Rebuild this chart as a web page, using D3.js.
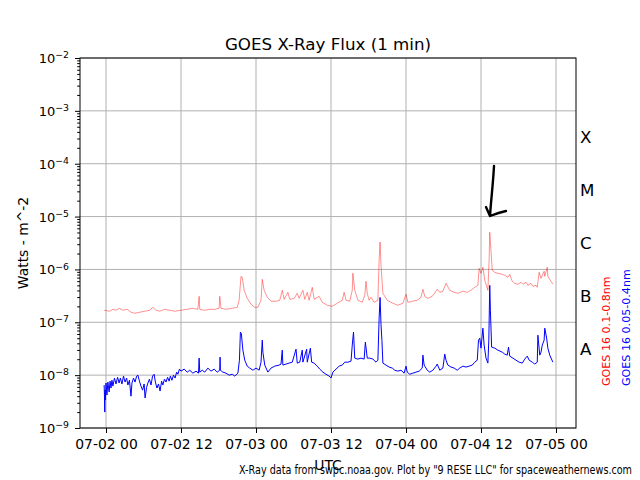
<!DOCTYPE html>
<html lang="en">
<head>
<meta charset="utf-8">
<title>GOES X-Ray Flux</title>
<script src="https://cdn.jsdelivr.net/npm/d3@7"></script>
<style>
  body { margin: 0; background: #fff; }
  text { font-family: "DejaVu Sans", sans-serif; fill: #000; }
  .grid line { stroke: #b0b0b0; stroke-width: 1; }
  .axis path { display: none; }
  .axis line { stroke: #000; }
</style>
</head>
<body>
<div id="chart"></div>
<script>
// hours since 07-02 00:00 UTC, flux in W/m^2
var longHours = [-0.3,0.6,1.1,1.6,2.1,2.7,3.4,4.0,4.6,5.4,6.2,7.0,7.5,8.0,8.6,9.4,10.2,11.0,12.0,13.0,13.9,14.7,14.9,15.0,15.8,16.6,17.4,18.1,18.2,18.4,19.2,20.2,21.0,21.3,21.6,21.8,22.1,22.6,23.2,23.8,24.3,24.8,25.0,25.3,25.8,26.4,27.2,27.8,28.2,28.5,29.1,29.4,30.1,30.6,30.9,31.5,31.8,32.2,32.5,33.0,33.3,34.1,34.6,35.4,36.2,37.0,37.8,38.1,38.4,39.0,39.4,39.5,39.8,40.3,41.0,41.4,41.6,41.8,42.1,42.4,42.9,43.5,43.7,43.85,44.0,44.3,45.0,45.9,46.7,47.5,48.0,48.3,49.0,49.8,50.4,50.7,51.0,51.5,52.2,53.0,53.4,53.9,54.4,55.0,55.7,56.3,57.1,57.8,58.4,59.0,59.5,59.7,60.0,60.3,60.6,61.0,61.1,61.3,61.4,61.6,61.8,62.2,62.7,63.4,63.8,64.3,64.6,65.0,65.4,65.9,66.4,66.7,67.2,67.5,68.0,68.3,68.8,69.0,69.3,69.6,69.8,70.1,70.2,70.6,70.7,71.2,71.5];
var longFlux = [1.69e-7,1.62e-7,1.76e-7,1.69e-7,1.84e-7,1.69e-7,1.76e-7,1.55e-7,1.48e-7,1.55e-7,1.62e-7,1.69e-7,1.92e-7,1.69e-7,1.62e-7,1.76e-7,1.69e-7,1.62e-7,1.69e-7,1.76e-7,1.84e-7,1.76e-7,3.10e-7,1.76e-7,1.69e-7,1.76e-7,1.76e-7,1.84e-7,3.10e-7,1.84e-7,1.76e-7,1.84e-7,1.92e-7,2.61e-7,7.41e-7,7.1e-7,4.03e-7,2.84e-7,2.19e-7,1.92e-7,1.92e-7,2.61e-7,6.50e-7,4.03e-7,2.97e-7,2.50e-7,2.50e-7,2.61e-7,4.03e-7,2.72e-7,3.69e-7,2.72e-7,2.84e-7,3.54e-7,2.84e-7,4.03e-7,2.72e-7,3.69e-7,2.61e-7,4.59e-7,2.72e-7,3.10e-7,2.39e-7,2.10e-7,2.01e-7,2.29e-7,2.61e-7,3.69e-7,2.61e-7,2.50e-7,4.03e-7,8.44e-7,4.03e-7,2.61e-7,2.39e-7,3.24e-7,5.96e-7,3.54e-7,2.61e-7,2.97e-7,2.39e-7,2.61e-7,1.5e-6,3.3e-6,1.2e-6,3.54e-7,2.61e-7,2.29e-7,2.10e-7,2.29e-7,3.39e-7,2.39e-7,2.50e-7,2.61e-7,2.97e-7,4.21e-7,3.10e-7,2.84e-7,3.10e-7,4.21e-7,3.69e-7,3.86e-7,5.46e-7,4.03e-7,3.69e-7,3.54e-7,3.86e-7,3.69e-7,4.03e-7,4.59e-7,5.01e-7,1.05e-6,8.44e-7,1.10e-6,6.23e-7,4.40e-7,4.03e-7,1.5e-6,5.04e-6,2.2e-6,9.62e-7,8.82e-7,8.44e-7,8.08e-7,7.74e-7,7.09e-7,8.08e-7,5.96e-7,5.46e-7,5.23e-7,5.71e-7,5.23e-7,5.71e-7,5.01e-7,5.46e-7,4.80e-7,5.01e-7,4.59e-7,8.82e-7,6.79e-7,7.74e-7,9.21e-7,7.41e-7,1.10e-6,7.41e-7,5.96e-7,5.23e-7];

var shortHours = [-0.3,-0.25,-0.2,-0.15,-0.1,0.0,0.15,0.3,0.5,0.65,0.8,0.95,1.1,1.35,1.6,1.85,2.1,2.3,2.55,2.8,3.05,3.3,3.5,3.75,4.0,4.15,4.4,4.65,4.9,5.1,5.35,5.6,5.85,6.1,6.25,6.5,6.7,6.95,7.2,7.45,7.7,7.9,8.15,8.4,8.65,8.9,9.1,9.35,9.6,9.85,10.1,10.3,10.55,10.8,11.05,11.3,11.5,11.75,12.0,12.5,13.0,13.4,13.9,14.4,14.8,14.9,15.0,15.4,15.8,16.3,16.8,17.3,17.8,18.2,18.25,18.3,18.7,19.2,19.7,20.2,20.6,21.1,21.35,21.5,21.65,21.9,22.2,22.6,23.0,23.5,24.0,24.5,24.8,25.0,25.1,25.4,25.9,26.4,27.0,27.7,28.0,28.2,28.3,28.8,29.3,29.8,30.4,30.6,31.0,31.4,31.5,32.1,32.2,32.7,32.9,33.3,33.8,34.2,34.7,35.2,35.7,36.0,36.3,36.8,37.3,37.8,38.2,38.7,39.2,39.4,39.6,39.8,40.3,40.8,41.3,41.5,41.8,42.2,42.7,43.2,43.5,43.7,43.85,44.0,44.15,44.3,44.8,45.3,45.8,46.2,46.7,47.2,47.7,48.0,48.2,48.6,49.1,49.6,50.1,50.6,50.7,50.9,51.4,51.8,52.3,52.8,53.0,53.4,53.9,54.2,54.4,54.7,55.2,55.7,56.2,56.6,57.1,57.6,58.1,58.6,59.0,59.4,59.6,59.8,60.0,60.3,60.5,60.8,61.1,61.25,61.4,61.5,61.7,62.2,62.7,63.4,63.8,64.2,64.4,64.6,65.1,65.6,66.1,66.6,67.0,67.4,67.7,68.2,68.6,69.0,69.1,69.4,69.6,69.8,70.1,70.2,70.5,70.7,71.0,71.5];
var shortFlux = [6.5e-9,4.2e-9,2.0e-9,5.2e-9,3.4e-9,7.1e-9,4.2e-9,7.4e-9,4.8e-9,7.7e-9,5.7e-9,8.0e-9,6.2e-9,8.8e-9,6.8e-9,9.1e-9,7.1e-9,8.8e-9,6.8e-9,9.6e-9,7.4e-9,8.8e-9,6.5e-9,8.0e-9,4.0e-9,7.1e-9,8.8e-9,7.4e-9,9.6e-9,1.0e-8,7.7e-9,6.2e-9,5.2e-9,6.8e-9,3.7e-9,5.9e-9,7.1e-9,8.4e-9,6.5e-9,9.6e-9,1.04e-8,7.4e-9,5.7e-9,6.8e-9,5.0e-9,7.7e-9,6.5e-9,8.4e-9,7.4e-9,9.1e-9,7.7e-9,9.6e-9,8.0e-9,1.0e-8,8.8e-9,1.14e-8,1.04e-8,1.30e-8,1.19e-8,1.30e-8,1.14e-8,1.24e-8,1.09e-8,1.19e-8,1.09e-8,2.10e-8,1.14e-8,1.24e-8,1.14e-8,1.36e-8,1.19e-8,1.30e-8,1.14e-8,1.24e-8,2.19e-8,1.24e-8,1.14e-8,1.09e-8,1.0e-8,1.04e-8,9.6e-9,1.09e-8,1.92e-8,6.5e-8,6.2e-8,2.97e-8,1.92e-8,1.48e-8,1.36e-8,1.24e-8,1.36e-8,1.24e-8,1.76e-8,4.59e-8,2.72e-8,1.55e-8,1.14e-8,1.36e-8,1.48e-8,1.55e-8,1.62e-8,2.97e-8,1.55e-8,1.62e-8,1.69e-8,1.76e-8,3.10e-8,1.69e-8,1.76e-8,2.97e-8,1.76e-8,3.10e-8,1.76e-8,3.24e-8,1.76e-8,1.69e-8,1.48e-8,1.30e-8,1.14e-8,1.04e-8,9.6e-9,8.8e-9,1.14e-8,1.30e-8,1.48e-8,1.55e-8,1.76e-8,1.76e-8,1.84e-8,3.69e-8,6.5e-8,2.10e-8,2.01e-8,2.10e-8,2.01e-8,4.21e-8,2.10e-8,2.10e-8,2.01e-8,1.76e-8,1.92e-8,1.2e-7,2.95e-7,9.0e-8,4.5e-8,1.69e-8,1.55e-8,1.42e-8,1.36e-8,1.24e-8,1.19e-8,1.24e-8,1.09e-8,1.48e-8,1.14e-8,1.04e-8,1.09e-8,1.14e-8,1.19e-8,1.36e-8,2.39e-8,1.55e-8,1.24e-8,1.14e-8,1.24e-8,1.48e-8,1.62e-8,1.24e-8,1.36e-8,2.50e-8,1.92e-8,1.55e-8,1.42e-8,1.36e-8,1.24e-8,1.36e-8,1.48e-8,1.42e-8,1.48e-8,1.55e-8,1.76e-8,1.92e-8,4.59e-8,5.0e-8,3.24e-8,7.74e-8,3.69e-8,2.10e-8,1.69e-8,4.6e-8,5.0e-7,1.69e-7,3.39e-8,3.24e-8,2.97e-8,2.72e-8,2.50e-8,2.39e-8,3.39e-8,2.29e-8,2.10e-8,1.92e-8,1.76e-8,1.69e-8,2.01e-8,2.29e-8,1.92e-8,1.76e-8,1.62e-8,1.76e-8,5.7e-8,2.39e-8,2.72e-8,3.69e-8,4.59e-8,7.74e-8,5.0e-8,3.24e-8,2.39e-8,1.76e-8];

var decades = [1e-9,1e-8,1e-7,1e-6,1e-5,1e-4,1e-3,1e-2];
var flareClasses = ["A","B","C","M","X"];
var classFloor = [1e-8,1e-7,1e-6,1e-5,1e-4];

var width = 640, height = 480;
var plotL = 80, plotR = 576, plotT = 58, plotB = 428;

var t0 = Date.UTC(2019, 6, 2, 0, 0);
var hour = 3600 * 1000;

var svg = d3.select("#chart").append("svg")
    .attr("width", width)
    .attr("height", height);

svg.append("rect").attr("width", width).attr("height", height).attr("fill", "#fff");

var x = d3.scaleUtc()
    .domain([new Date(t0 - 4.16 * hour), new Date(t0 + 75.2 * hour)])
    .range([plotL, plotR]);

var y = d3.scaleLog()
    .domain([1e-9, 1e-2])
    .range([plotB, plotT]);

var xTicks = x.ticks(d3.utcHour.every(12));

// grid
var grid = svg.append("g").attr("class", "grid");
grid.selectAll("line.v").data(xTicks).enter().append("line")
    .attr("x1", function(d) { return x(d); })
    .attr("x2", function(d) { return x(d); })
    .attr("y1", plotT).attr("y2", plotB);
grid.selectAll("line.h").data(decades).enter().append("line")
    .attr("x1", plotL).attr("x2", plotR)
    .attr("y1", function(d) { return y(d); })
    .attr("y2", function(d) { return y(d); });

// series
var line = d3.line()
    .x(function(d) { return x(new Date(t0 + d[0] * hour)); })
    .y(function(d) { return y(d[1]); });

svg.append("path")
    .datum(d3.zip(longHours, longFlux))
    .attr("d", line)
    .attr("fill", "none")
    .attr("stroke", "#ff0000")
    .attr("stroke-opacity", 0.55)
    .attr("stroke-width", 0.8);

svg.append("path")
    .datum(d3.zip(shortHours, shortFlux))
    .attr("d", line)
    .attr("fill", "none")
    .attr("stroke", "#0000ff")
    .attr("stroke-width", 1);

// frame
svg.append("rect")
    .attr("x", plotL).attr("y", plotT)
    .attr("width", plotR - plotL).attr("height", plotB - plotT)
    .attr("fill", "none").attr("stroke", "#000").attr("stroke-width", 1);

// x axis
svg.append("g")
    .attr("class", "axis")
    .attr("transform", "translate(0," + plotB + ")")
    .call(d3.axisBottom(x).tickValues(xTicks).tickSize(5).tickPadding(6)
        .tickFormat(d3.utcFormat("%m-%d %H")))
    .selectAll("text")
    .style("font-family", "DejaVu Sans")
    .style("font-size", "13.9px");

// y axis, major + minor ticks
var minor = [];
decades.slice(0, -1).forEach(function(d) {
  for (var k = 2; k < 10; k++) minor.push(d * k);
});

svg.append("g")
    .attr("class", "axis")
    .attr("transform", "translate(" + plotL + ",0)")
    .call(d3.axisLeft(y).tickValues(minor).tickSize(2.8).tickFormat(""));

svg.append("g")
    .attr("class", "axis")
    .attr("transform", "translate(" + plotL + ",0)")
    .call(d3.axisLeft(y).tickValues(decades).tickSize(5).tickFormat(""));

var yLab = svg.append("g").selectAll("text").data(decades).enter().append("text")
    .attr("x", 69)
    .attr("y", function(d) { return y(d) + 5; })
    .attr("text-anchor", "end")
    .style("font-size", "13px");
yLab.append("tspan").text("10");
yLab.append("tspan")
    .attr("dy", -4.8)
    .style("font-size", "9.3px")
    .text(function(d) { return "\u2212" + Math.round(-Math.log10(d)); });

// flare class letters on the right
svg.append("g").selectAll("text").data(flareClasses).enter().append("text")
    .attr("x", 580)
    .attr("y", function(d, i) { return y(classFloor[i] * Math.sqrt(10)) + 6; })
    .style("font-size", "16.7px")
    .text(function(d) { return d; });

// series labels
svg.append("text")
    .attr("transform", "translate(610,386) rotate(-90)")
    .style("font-size", "11.1px")
    .style("fill", "#ff0000")
    .text("GOES 16 0.1-0.8nm");
svg.append("text")
    .attr("transform", "translate(629.5,386) rotate(-90)")
    .style("font-size", "11.1px")
    .style("fill", "#0000ff")
    .text("GOES 16 0.05-0.4nm");

// titles
svg.append("text")
    .attr("x", (plotL + plotR) / 2).attr("y", 50)
    .attr("text-anchor", "middle")
    .style("font-size", "16.7px")
    .text("GOES X-Ray Flux (1 min)");

svg.append("text")
    .attr("transform", "translate(27.5," + (plotT + plotB) / 2 + ") rotate(-90)")
    .attr("text-anchor", "middle")
    .style("font-size", "13.9px")
    .text("Watts - m^-2");

svg.append("text")
    .attr("x", (plotL + plotR) / 2).attr("y", 469.5)
    .attr("text-anchor", "middle")
    .style("font-size", "13.9px")
    .text("UTC");

svg.append("text")
    .attr("x", 239).attr("y", 473.5)
    .attr("textLength", 393)
    .attr("lengthAdjust", "spacingAndGlyphs")
    .style("font-size", "12px")
    .text('X-Ray data from swpc.noaa.gov. Plot by "9 RESE LLC" for spaceweathernews.com');

// hand-drawn arrow pointing at the flare
svg.append("path")
    .attr("d", "M494,166 C493,185 491,200 490,216 M486,207 L490,216 C495,214 501,212 506,211")
    .attr("fill", "none")
    .attr("stroke", "#000")
    .attr("stroke-width", 2.4)
    .attr("stroke-linecap", "round")
    .attr("stroke-linejoin", "round");
</script>
</body>
</html>
